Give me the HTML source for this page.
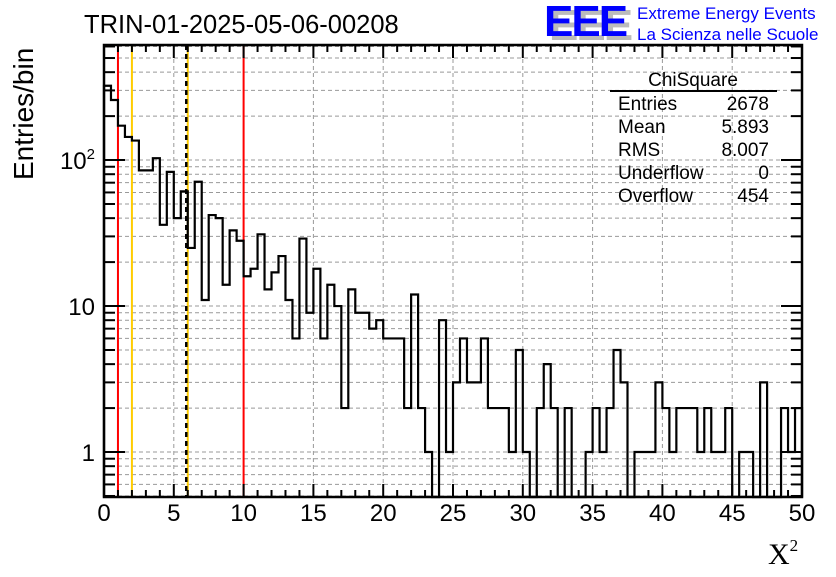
<!DOCTYPE html>
<html><head><meta charset="utf-8"><style>
body{margin:0;background:#fff;}
svg text{font-family:"Liberation Sans",sans-serif;}
</style></head><body>
<svg id="chart" width="836" height="572" viewBox="0 0 836 572" xmlns="http://www.w3.org/2000/svg">
<rect width="836" height="572" fill="#fff"/>
<g id="grid"></g>
<g id="vlines"></g>
<g id="hist"></g>
<g id="axes"></g>
<text x="84" y="33" font-size="25.5">TRIN-01-2025-05-06-00208</text>
<g>
<text x="549" y="40" font-size="44" font-weight="bold" fill="#bbb" letter-spacing="-2">EEE</text>
<text x="544" y="36" font-size="44" font-weight="bold" fill="#0000ff" letter-spacing="-2">EEE</text>
<text x="637" y="19" font-size="17" fill="#0000ff">Extreme Energy Events</text>
<text x="637" y="40" font-size="17" fill="#0000ff">La Scienza nelle Scuole</text>
</g>
<g font-size="19">
<text x="693" y="86" text-anchor="middle">ChiSquare</text>
<line x1="610" y1="91" x2="777" y2="91" stroke="#000" stroke-width="2"/>
<text x="618" y="110">Entries</text><text x="769" y="110" text-anchor="end">2678</text>
<text x="618" y="133">Mean</text><text x="769" y="133" text-anchor="end">5.893</text>
<text x="618" y="156">RMS</text><text x="769" y="156" text-anchor="end">8.007</text>
<text x="618" y="179">Underflow</text><text x="769" y="179" text-anchor="end">0</text>
<text x="618" y="202">Overflow</text><text x="769" y="202" text-anchor="end">454</text>
</g>
<text transform="translate(33,180) rotate(-90)" font-size="28">Entries/bin</text>
<text x="768" y="564" font-size="30" style="font-family:'Liberation Serif',serif">X<tspan font-size="17" dy="-13">2</tspan></text>
</svg>
<script>
const counts = [323,258,172,144,136,85,85,103,36,83,40,61,25,71,11,42,40,14,33,28,16,18,31,13,17,22,11,6,29,9,18,6,14,10,2,13,9,9,7,8,6,6,6,2,12,2,1,0,8,1,3,6,3,3,6,2,2,2,1,5,1,0,2,4,2,0,2,0,0,1,2,1,2,5,3,0,1,1,1,3,2,1,2,2,2,1,2,1,1,2,0,1,1,0,3,0,0,2,1,2];
const xTicks = [0,5,10,15,20,25,30,35,40,45,50];
const cutLines = [1,2,6,10];
const cutColors = ['#ff0000','#ffcc00','#ffcc00','#ff0000'];
const meanValue = 5.893;
const X0=104,X1=802,Y0=497,Y1=45, xmin=0,xmax=50, ymin=0.492, ymax=614;
const sx=v=>X0+(v-xmin)/(xmax-xmin)*(X1-X0);
const sy=v=>Y0-(Math.log10(v)-Math.log10(ymin))/(Math.log10(ymax)-Math.log10(ymin))*(Y0-Y1);
const NS='http://www.w3.org/2000/svg';
function mk(tag,attrs,parent){const e=document.createElementNS(NS,tag);for(const k in attrs)e.setAttribute(k,attrs[k]);parent.appendChild(e);return e;}
const grid=document.getElementById('grid'),axes=document.getElementById('axes'),hist=document.getElementById('hist'),vl=document.getElementById('vlines');
xTicks.forEach(t=>{if(t>xmin&&t<xmax){const l=mk('line',{x1:sx(t),x2:sx(t),y1:Y1,y2:Y0,stroke:'#999','stroke-dasharray':'4,3','stroke-width':1},grid);

}});
for(let d=-1;d<=2;d++){for(let m=1;m<=9;m++){const v=m*Math.pow(10,d);if(v<=ymin||v>=ymax)continue;
const y=sy(v);const l=mk('line',{x1:X0,x2:X1,y1:y,y2:y,stroke:'#999','stroke-dasharray':'4,3','stroke-width':1},grid);


const major=(m===1);const len=major?21:11;
const t1=mk('line',{x1:X0,x2:X0+len,y1:y,y2:y,stroke:'#000','stroke-width':2},axes);


const t2=mk('line',{x1:X1,x2:X1-len,y1:y,y2:y,stroke:'#000','stroke-width':2},axes);


if(major){const tx=mk('text',{x:95,y:y+9,'font-size':24,'text-anchor':'end'},axes);


if(d===2){tx.innerHTML='10<tspan font-size="15" dy="-10">2</tspan>';}else{tx.textContent=String(Math.pow(10,d));}}}}
cutLines.forEach((c,i)=>{const l=mk('line',{x1:sx(c),x2:sx(c),y1:Y1,y2:Y0,stroke:cutColors[i],'stroke-width':2},vl);

});
const ml=mk('line',{x1:sx(meanValue),x2:sx(meanValue),y1:Y1,y2:Y0,stroke:'#000','stroke-width':2.5,'stroke-dasharray':'5,4'},vl);


const bw=(xmax-xmin)/counts.length;
const yv=c=>c>0?Math.max(Y1,sy(c)):Y0;
let d='M'+sx(xmin)+','+Y0;
counts.forEach((c,i)=>{const y=yv(c);d+=' L'+sx(xmin+i*bw)+','+y+' L'+sx(xmin+(i+1)*bw)+','+y;});
d+=' L'+sx(xmax)+','+Y0;
const p=mk('path',{d:d,fill:'none',stroke:'#000','stroke-width':2.2},hist);


const fr=mk('rect',{x:X0,y:Y1,width:X1-X0,height:Y0-Y1,fill:'none',stroke:'#000','stroke-width':2.5},axes);


for(let v=xmin;v<=xmax;v+=1){const major=(v%5===0);const len=major?13:7;const x=sx(v);
const t=mk('line',{x1:x,x2:x,y1:Y0,y2:Y0-len,stroke:'#000','stroke-width':2},axes);


const t2=mk('line',{x1:x,x2:x,y1:Y1,y2:Y1+len,stroke:'#000','stroke-width':2},axes);

}
xTicks.forEach(t=>{const tx=mk('text',{x:sx(t),y:521,'font-size':24,'text-anchor':'middle'},axes);


tx.textContent=t;});
</script>
</body></html>
